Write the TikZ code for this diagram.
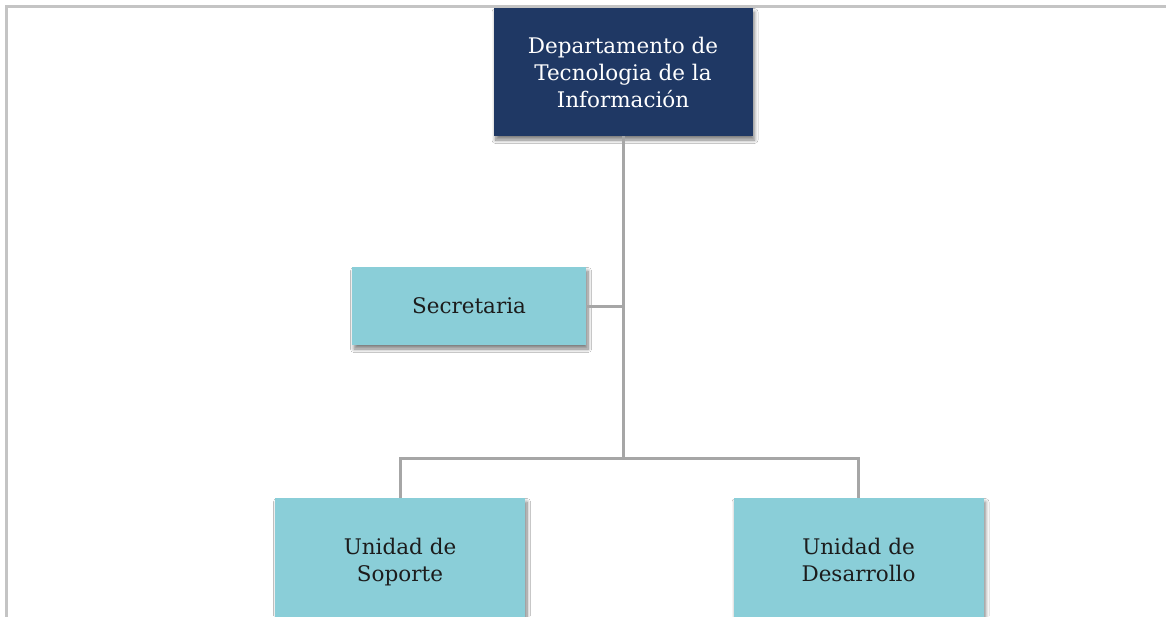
\documentclass[tikz,border=0pt]{standalone}
\usepackage{fontspec}
\setmainfont{DejaVu Serif}
\usetikzlibrary{shadows.blur}
\definecolor{navy}{HTML}{1F3864}
\definecolor{teal}{HTML}{8ACED8}
\definecolor{conngray}{HTML}{A6A6A6}
\definecolor{framegray}{HTML}{C4C4C4}
\definecolor{txtdark}{HTML}{1C1C1C}
\tikzset{
  box/.style={rectangle, inner sep=0pt, align=center,
    font=\fontsize{21.5}{27}\selectfont,
    blur shadow={shadow xshift=2pt, shadow yshift=-4pt, shadow blur steps=8,
      shadow blur radius=3.5pt, shadow opacity=50}},
  headbox/.style={box, fill=navy, text=white},
  unitbox/.style={box, fill=teal, text=txtdark},
  conn/.style={draw=conngray, line width=3pt},
  frameline/.style={draw=framegray, line width=3pt}
}
\begin{document}
\begin{tikzpicture}[x=1pt,y=-1pt]
\useasboundingbox (0,0) rectangle (1166,616);
\clip (0,0) rectangle (1166,616);
\fill[white] (0,0) rectangle (1166,616);
\draw[frameline] (6,620) -- (6,6) -- (1170,6);
\coordinate (j) at (623,458);
\node[headbox, minimum width=259pt, minimum height=128pt] (top) at (623,72) {Departamento de\\Tecnologia de la\\Información};
\node[unitbox, minimum width=234pt, minimum height=78pt] (sec) at (469,306) {Secretaria};
\node[unitbox, minimum width=250pt, minimum height=128pt] (sop) at (400,562) {Unidad de\\Soporte};
\node[unitbox, minimum width=250pt, minimum height=128pt] (des) at (858.5,562) {Unidad de\\Desarrollo\vphantom{p}};
\draw[conn] (top.south) -- (j);
\draw[conn] (sec.east) -- (sec.east -| j);
\draw[conn] (sop.north) |- (j) -| (des.north);
\end{tikzpicture}
\end{document}
